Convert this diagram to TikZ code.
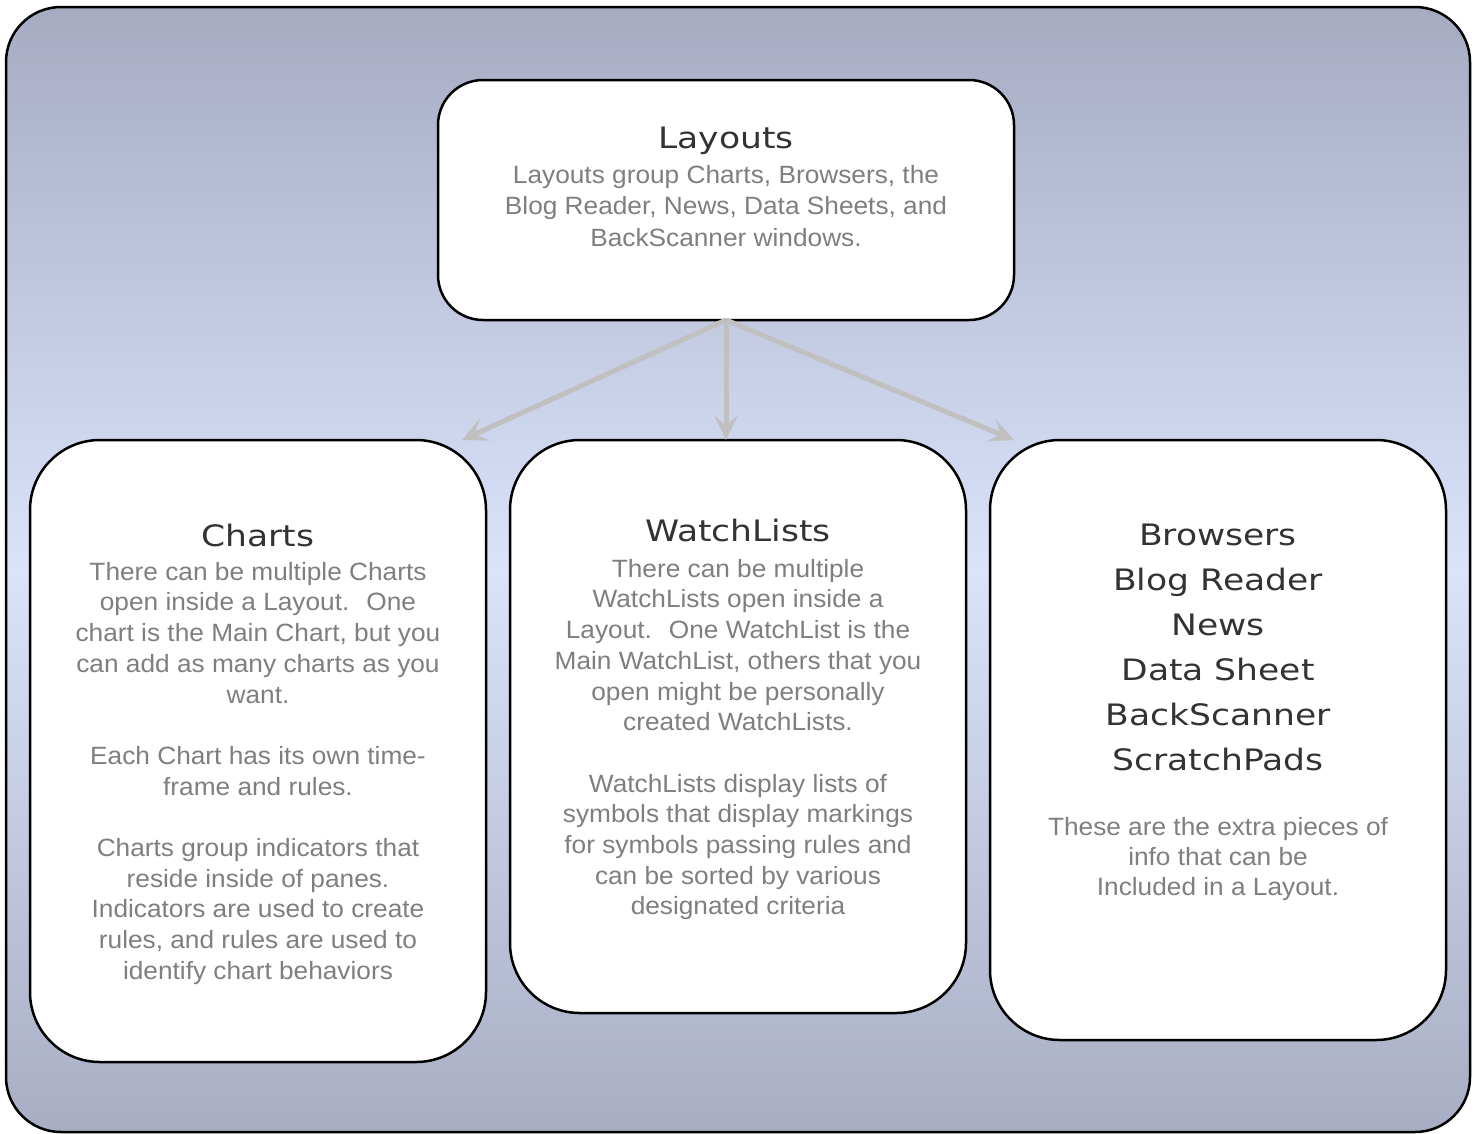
\documentclass[tikz,border=0pt]{standalone}
\usepackage{fontspec}
\setmainfont[FakeStretch=1.05]{Liberation Sans}
\newfontfamily\titlefont[FakeStretch=1.17]{DejaVu Sans}
\usetikzlibrary{arrows.meta,calc}
\definecolor{bodygray}{HTML}{7F7F7F}
\definecolor{titlegray}{HTML}{333333}
\definecolor{bgtop}{HTML}{A6ABC2}
\definecolor{bgmid}{HTML}{DAE3FA}
\definecolor{bgbot}{HTML}{A8ADC3}
\definecolor{arrowgray}{HTML}{C0C0C0}
\tikzset{
  frame/.style={draw=black, line width=2.5pt, rounded corners=55pt, top color=bgtop, bottom color=bgbot, middle color=bgmid, anchor=north west, inner sep=0pt, outer sep=0pt},
  box/.style={draw=black, line width=2.5pt, fill=white, anchor=north west, inner sep=0pt, outer sep=0pt},
  ttl/.style={text=titlegray, font=\titlefont\fontsize{29.5}{45}\selectfont, inner sep=0pt, anchor=base},
  bigttl/.style={text=titlegray, font=\titlefont\fontsize{29.5}{45}\selectfont, inner sep=0pt, anchor=north, align=center},
  bodytxt/.style={text=bodygray, font=\fontsize{25}{30.7}\selectfont, inner sep=0pt, anchor=north, align=center},
  conn/.style={draw=arrowgray, line width=5pt, -{Stealth[length=25pt, width=24pt, inset=11pt]}}
}
\begin{document}
\begin{tikzpicture}[x=1pt, y=-1pt]
\useasboundingbox (0,0) rectangle (1477,1133);
\node[frame, minimum width=1464pt, minimum height=1125pt] (bg) at (6,7) {};

\node[box, rounded corners=45pt, minimum width=576pt, minimum height=240pt] (layouts) at (438,80) {};
\node[box, rounded corners=70pt, minimum width=456pt, minimum height=622pt] (charts) at (30,440) {};
\node[box, rounded corners=70pt, minimum width=456pt, minimum height=573pt] (watch) at (510,440) {};
\node[box, rounded corners=70pt, minimum width=456pt, minimum height=600pt] (browsers) at (990,440) {};

% Layouts text
\node[ttl] (layoutsT) at (726,148) {Layouts};
\node[bodytxt, font=\fontsize{25}{31.5}\selectfont] (layoutsB) at (726,183-22.05) {\strut Layouts group Charts, Browsers, the\\Blog Reader, News, Data Sheets, and\\BackScanner windows.};

% Charts text
\node[ttl] (chartsT) at (258,546) {Charts};
\node[bodytxt] (chartsB) at (258,580-21.49) {\strut There can be multiple Charts\\open inside a Layout.~ One\\chart is the Main Chart, but you\\can add as many charts as you\\want.\\[30.7pt]Each Chart has its own time-\\frame and rules.\\[30.7pt]Charts group indicators that\\reside inside of panes.\\Indicators are used to create\\rules, and rules are used to\\identify chart behaviors};

% WatchLists text
\node[ttl] (watchT) at (738,541) {WatchLists};
\node[bodytxt] (watchB) at (738,577-21.49) {\strut There can be multiple\\WatchLists open inside a\\Layout.~ One WatchList is the\\Main WatchList, others that you\\open might be personally\\created WatchLists.\\[30.7pt]WatchLists display lists of\\symbols that display markings\\for symbols passing rules and\\can be sorted by various\\designated criteria};

% Browsers text
\node[bigttl] (browsersT) at (1218,545-31.5) {\strut Browsers\\Blog Reader\\News\\Data Sheet\\BackScanner\\ScratchPads};
\node[bodytxt, font=\fontsize{25}{30}\selectfont] (browsersB) at (1218,835-21) {\strut These are the extra pieces of\\info that can be\\Included in a Layout.};

% connectors
\draw[conn] (layouts.south) -- ($(charts.north east)+(-24,0)$);
\draw[conn] (layouts.south) -- (layouts.south |- watch.north);
\draw[conn] (layouts.south) -- ($(browsers.north west)+(24,0)$);
\end{tikzpicture}
\end{document}
